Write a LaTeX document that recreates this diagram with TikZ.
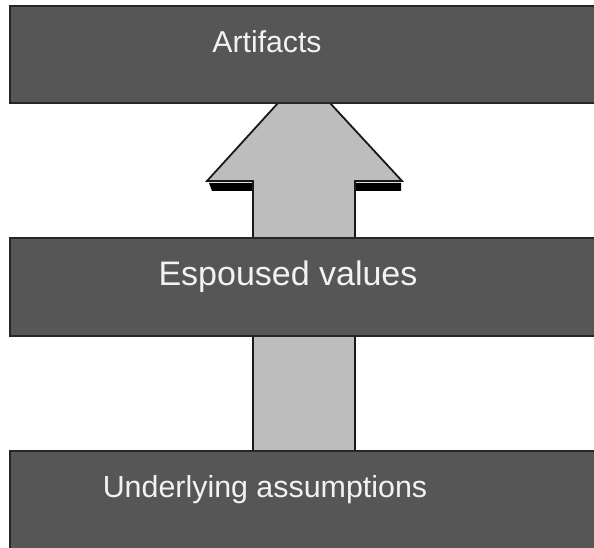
\documentclass[tikz,border=0pt]{standalone}
\usepackage{fontspec}
\setmainfont{Liberation Sans}
\begin{document}
\begin{tikzpicture}[x=1pt,y=-1pt,
  layer/.style={draw=black!85, line width=1.5pt, fill=barfill},
  label/.style={text=white!95!black, inner sep=0pt, anchor=base},
  arrowbody/.style={draw=black!90, line width=1.8pt, fill=arrowfill, line join=miter},
]
\definecolor{barfill}{HTML}{565656}
\definecolor{arrowfill}{HTML}{BDBDBD}
\useasboundingbox[fill=white] (0,0) rectangle (594,548);

% upward arrow: soft shadow under the head, then the arrow itself
\fill[black] (209,183) -- (401,183) -- (401,191) -- (355,191) -- (355,188) -- (253,188) -- (253,191) -- (212,191) -- cycle;
\draw[arrowbody] (278,103) -- (330,103) -- (402,181) -- (355,181) -- (355,451)
  -- (253,451) -- (253,181) -- (207,181) -- cycle;

% the three layers
\draw[layer] (10,6) rectangle (600,103);
\draw[layer] (10,238) rectangle (600,336);
\draw[layer] (10,451) rectangle (600,552);

\node[label, font=\fontsize{30.2}{36}\selectfont] (artifacts) at (267,53) {Artifacts};
\node[label, font=\fontsize{34}{40}\selectfont] (values) at (288,285) {Espoused values};
\node[label, font=\fontsize{30.4}{36}\selectfont] (assumptions) at (265,497) {Underlying assumptions};
\end{tikzpicture}
\end{document}
